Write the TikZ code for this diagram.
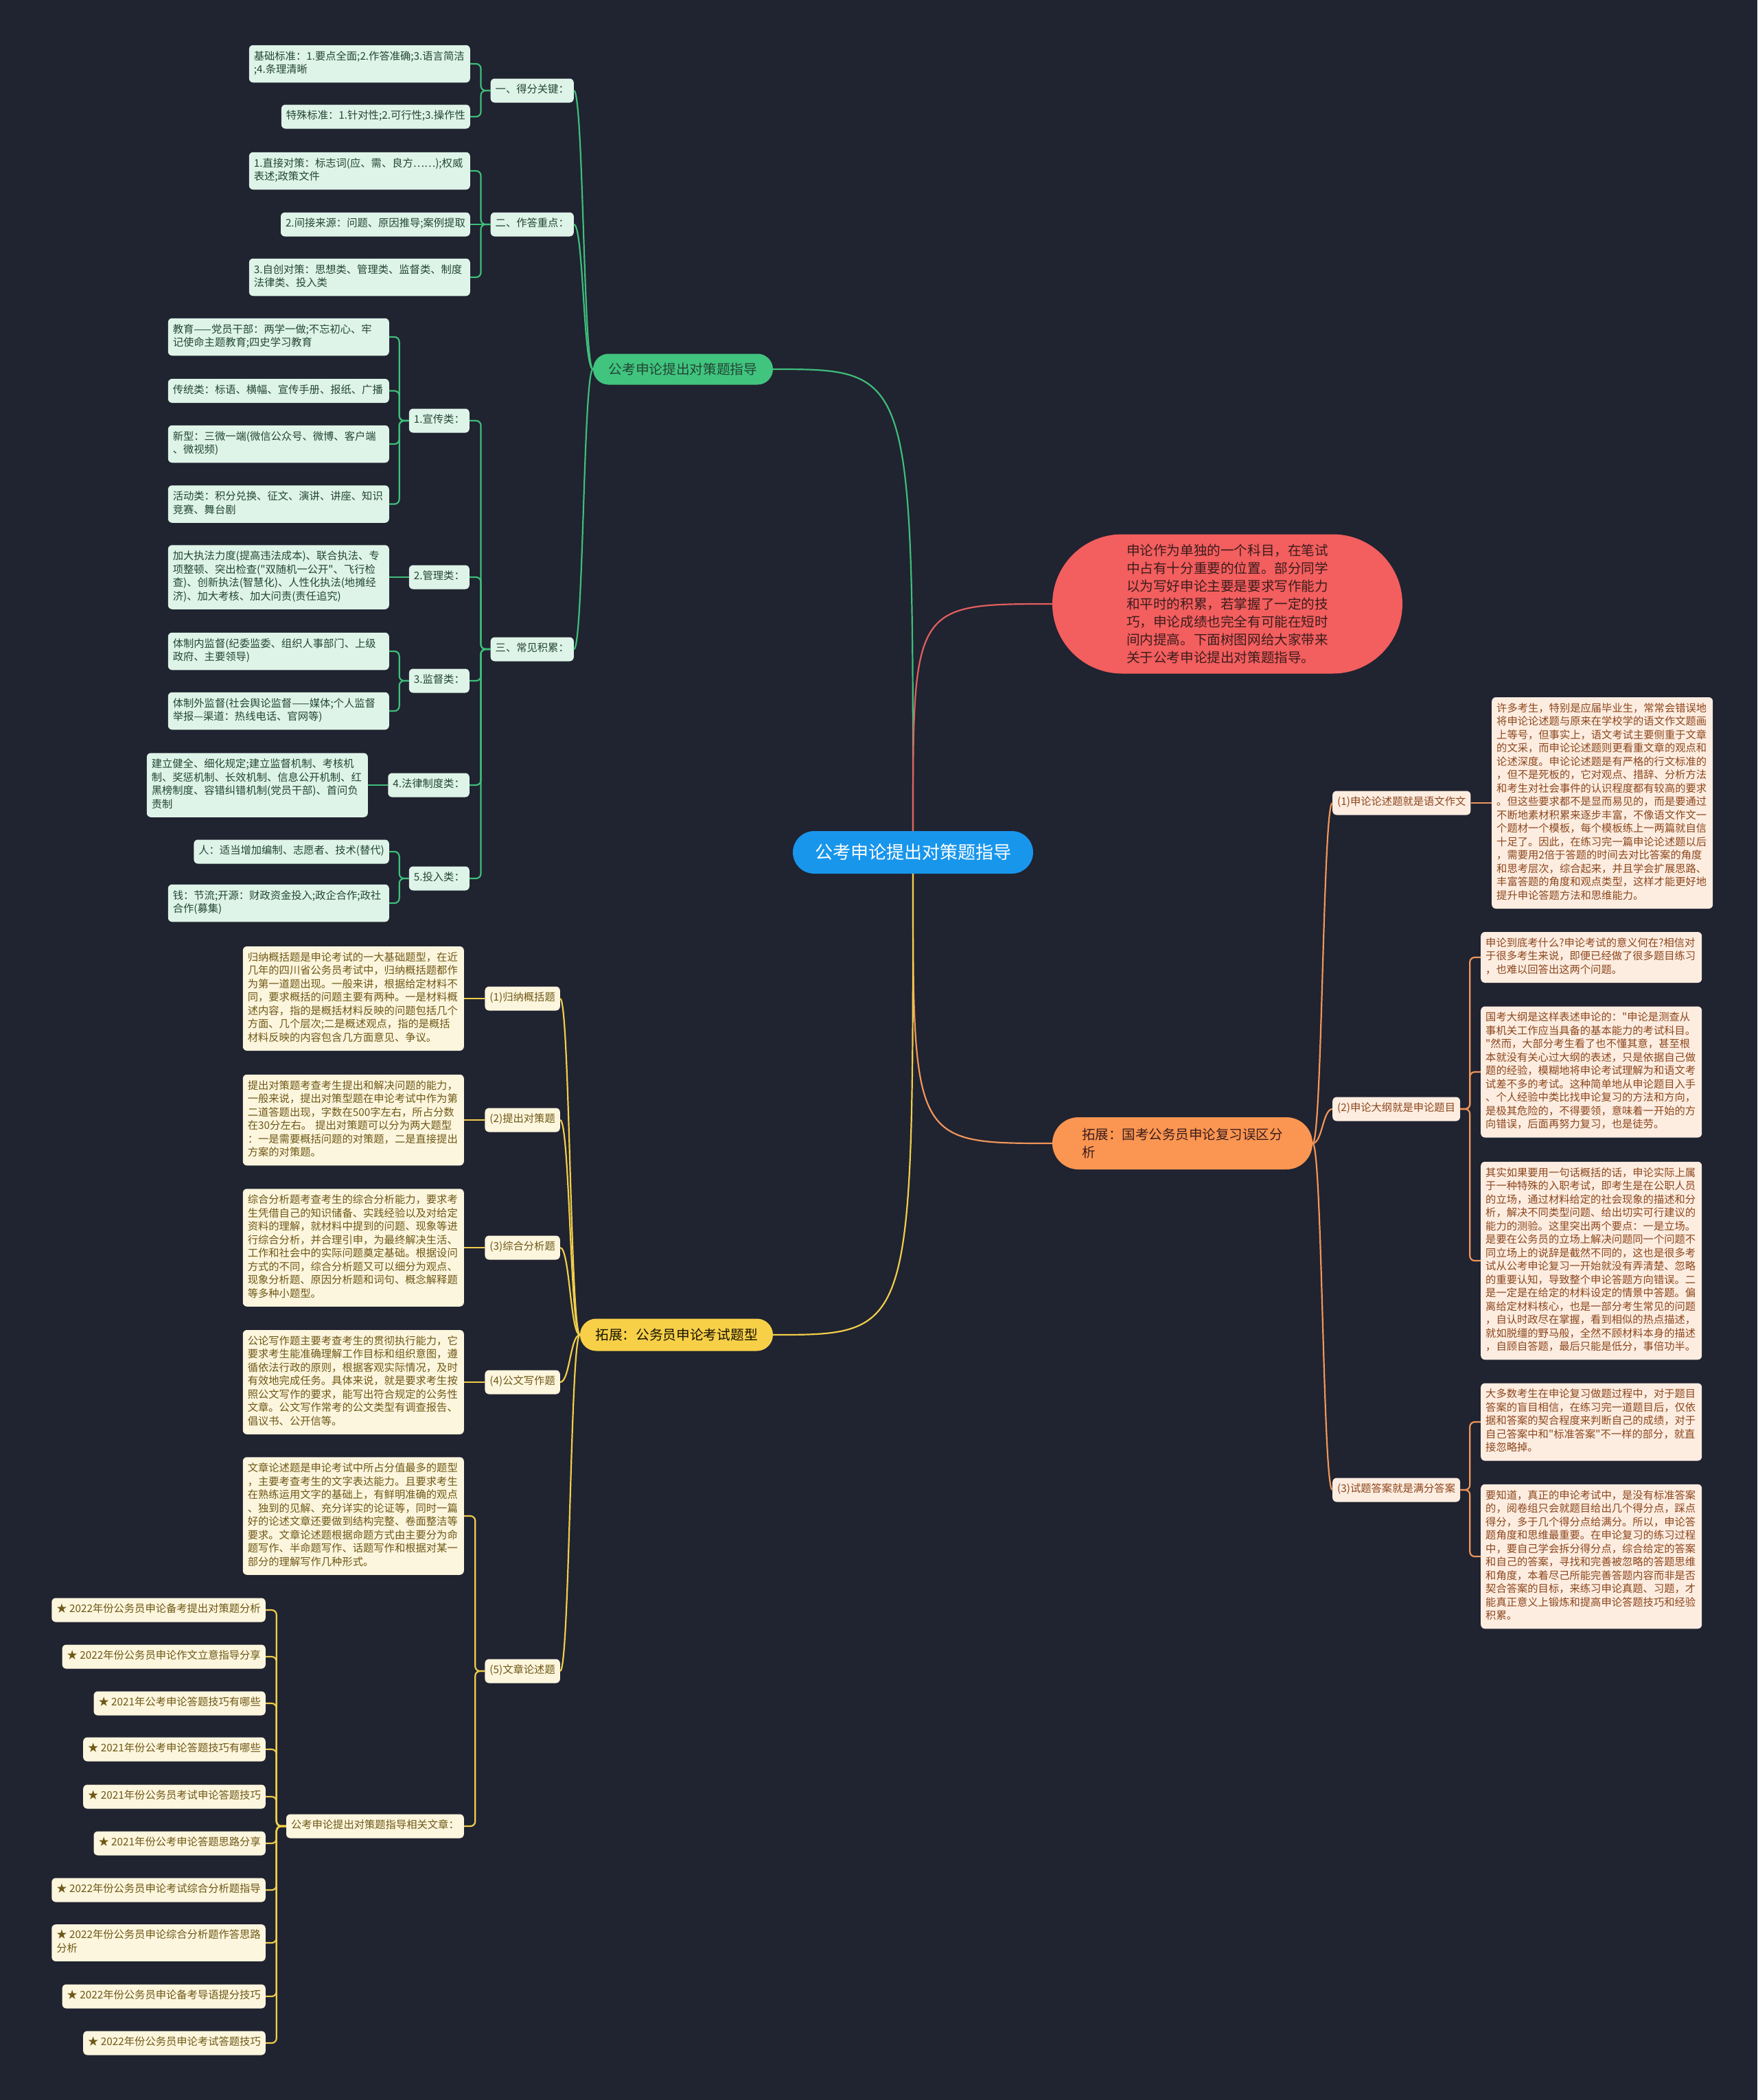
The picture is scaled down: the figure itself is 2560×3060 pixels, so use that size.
\documentclass[tikz,border=0pt]{standalone}
\usepackage{fontspec}
\newfontfamily\cjkf{Noto Sans CJK SC}
\usetikzlibrary{shapes.misc}
\definecolor{bg}{RGB}{32,35,48}
\definecolor{cblue}{RGB}{24,150,236}
\definecolor{gmain}{RGB}{64,196,126}
\definecolor{glc}{RGB}{62,190,122}
\definecolor{gfill}{RGB}{222,244,232}
\definecolor{gtext}{RGB}{35,70,52}
\definecolor{ymain}{RGB}{247,208,72}
\definecolor{ylc}{RGB}{240,206,74}
\definecolor{yfill}{RGB}{253,246,222}
\definecolor{ytext}{RGB}{110,88,22}
\definecolor{omain}{RGB}{250,150,82}
\definecolor{olc}{RGB}{240,150,90}
\definecolor{ofill}{RGB}{253,237,225}
\definecolor{otext}{RGB}{140,70,28}
\definecolor{rmain}{RGB}{243,94,94}
\definecolor{rlc}{RGB}{228,95,95}
\definecolor{rtext}{RGB}{60,28,28}
\newcommand\brL[3]{\draw[#1] (#2.west) -- ++(-14,0) |- (#3.east);}
\newcommand\brR[3]{\draw[#1] (#2.east) -- ++(14,0) |- (#3.west);}
\newcommand\cvL[3]{\draw[#1] (#2.west) .. controls +(-14,0) and +(14,0) .. (#3.east);}
\newcommand\cvR[3]{\draw[#1] (#2.east) .. controls +(14,0) and +(-14,0) .. (#3.west);}
\begin{document}
\begin{tikzpicture}[x=1pt,y=-1pt,
  bx/.style={rounded corners=6pt, inner xsep=7pt, inner ysep=7.75pt, font=\cjkf\fontsize{15.3}{19.5}\selectfont, align=left, execute at begin node=\strut, execute at end node=\strut},
  wd20/.style={text width=308pt},
  gbox/.style={bx, fill=gfill, text=gtext},
  ybox/.style={bx, fill=yfill, text=ytext},
  obox/.style={bx, fill=ofill, text=otext},
  pill/.style={rounded rectangle, inner sep=0pt, align=left},
  gl/.style={draw=glc, line width=2.2pt, rounded corners=7pt},
  yl/.style={draw=ylc, line width=2.2pt, rounded corners=7pt},
  ol/.style={draw=olc, line width=2.2pt, rounded corners=7pt},
  rl/.style={draw=rlc, line width=2.2pt},
]
\fill[bg] (0,0) rectangle (2560,3060);
\useasboundingbox (0,0) rectangle (2560,3060);

% ---------- main nodes
\node[pill, fill=cblue, text=white, font=\cjkf\fontsize{26}{30}\selectfont, minimum width=350pt, minimum height=62pt] (c) at (1330,1242) {公考申论提出对策题指导};
\node[pill, fill=gmain, text=gtext, font=\cjkf\fontsize{19.7}{26}\selectfont, minimum width=262pt, minimum height=45pt] (gm) at (995,538) {公考申论提出对策题指导};
\node[pill, fill=ymain, text=black!80!ytext, font=\cjkf\fontsize{19.7}{26}\selectfont, minimum width=281pt, minimum height=47pt] (ym) at (985.5,1945) {拓展：公务员申论考试题型};
\node[pill, fill=omain, text=rtext, font=\cjkf\fontsize{19.5}{26}\selectfont, minimum width=379pt, minimum height=76pt] (om) at (1722.5,1666) {拓展：国考公务员申论复习误区分\\析};
\node[pill, fill=rmain, text=rtext, font=\cjkf\fontsize{19.6}{26}\selectfont, minimum width=510pt, minimum height=203pt] (rm) at (1788,880) {申论作为单独的一个科目，在笔试\\中占有十分重要的位置。部分同学\\以为写好申论主要是要求写作能力\\和平时的积累，若掌握了一定的技\\巧，申论成绩也完全有可能在短时\\间内提高。下面树图网给大家带来\\关于公考申论提出对策题指导。};

\draw[gl] (c.north) .. controls (c.north |- gm.east) .. (gm.east);
\draw[rl] (c.north) .. controls (c.north |- rm.west) .. (rm.west);
\draw[ol] (c.south) .. controls (c.south |- om.west) .. (om.west);
\draw[yl] (c.south) .. controls (c.south |- ym.east) .. (ym.east);

% ---------- green branch
\node[gbox, anchor=east] (ga) at (836,132) {一、得分关键：};
\node[gbox, anchor=east] (gb) at (836,327) {二、作答重点：};
\node[gbox, anchor=east] (gc) at (836,946) {三、常见积累：};
\node[gbox, wd20, anchor=east] (ga1) at (685,93) {基础标准：1.要点全面;2.作答准确;3.语言简洁\\;4.条理清晰};
\node[gbox, anchor=east] (ga2) at (685,170) {特殊标准：1.针对性;2.可行性;3.操作性};
\node[gbox, wd20, anchor=east] (gb1) at (685,249) {1.直接对策：标志词(应、需、良方……);权威\\表述;政策文件};
\node[gbox, anchor=east] (gb2) at (685,327) {2.间接来源：问题、原因推导;案例提取};
\node[gbox, wd20, anchor=east] (gb3) at (685,404) {3.自创对策：思想类、管理类、监督类、制度\\法律类、投入类};
\node[gbox, anchor=east] (gc1) at (684,613) {1.宣传类：};
\node[gbox, anchor=east] (gc2) at (684,841) {2.管理类：};
\node[gbox, anchor=east] (gc3) at (684,992) {3.监督类：};
\node[gbox, anchor=east] (gc4) at (684,1144) {4.法律制度类：};
\node[gbox, anchor=east] (gc5) at (684,1280) {5.投入类：};
\node[gbox, wd20, anchor=east] (gc1a) at (567,491) {教育——党员干部：两学一做;不忘初心、牢\\记使命主题教育;四史学习教育};
\node[gbox, wd20, anchor=east] (gc1b) at (567,569.5) {传统类：标语、横幅、宣传手册、报纸、广播};
\node[gbox, wd20, anchor=east] (gc1c) at (567,647) {新型：三微一端(微信公众号、微博、客户端\\、微视频)};
\node[gbox, wd20, anchor=east] (gc1d) at (567,734.5) {活动类：积分兑换、征文、演讲、讲座、知识\\竞赛、舞台剧};
\node[gbox, wd20, anchor=east] (gc2a) at (567,841) {加大执法力度(提高违法成本)、联合执法、专\\项整顿、突出检查("双随机一公开"、飞行检\\查)、创新执法(智慧化)、人性化执法(地摊经\\济)、加大考核、加大问责(责任追究)};
\node[gbox, wd20, anchor=east] (gc3a) at (567,949) {体制内监督(纪委监委、组织人事部门、上级\\政府、主要领导)};
\node[gbox, wd20, anchor=east] (gc3b) at (567,1036) {体制外监督(社会舆论监督——媒体;个人监督\\举报—渠道：热线电话、官网等)};
\node[gbox, wd20, anchor=east] (gc4a) at (536,1144) {建立健全、细化规定;建立监督机制、考核机\\制、奖惩机制、长效机制、信息公开机制、红\\黑榜制度、容错纠错机制(党员干部)、首问负\\责制};
\node[gbox, anchor=east] (gc5a) at (567,1241) {人：适当增加编制、志愿者、技术(替代)};
\node[gbox, wd20, anchor=east] (gc5b) at (567,1316) {钱：节流;开源：财政资金投入;政企合作;政社\\合作(募集)};

\cvL{gl}{gm}{ga}
\cvL{gl}{gm}{gb}
\cvL{gl}{gm}{gc}
\brL{gl}{ga}{ga1}
\brL{gl}{ga}{ga2}
\brL{gl}{gb}{gb1}
\draw[gl] (gb.west) -- (gb2.east);
\brL{gl}{gb}{gb3}
\brL{gl}{gc}{gc1}
\brL{gl}{gc}{gc2}
\brL{gl}{gc}{gc3}
\brL{gl}{gc}{gc4}
\brL{gl}{gc}{gc5}
\brL{gl}{gc1}{gc1a}
\brL{gl}{gc1}{gc1b}
\brL{gl}{gc1}{gc1c}
\brL{gl}{gc1}{gc1d}
\draw[gl] (gc2.west) -- (gc2a.east);
\brL{gl}{gc3}{gc3a}
\brL{gl}{gc3}{gc3b}
\draw[gl] (gc4.west) -- (gc4a.east);
\brL{gl}{gc5}{gc5a}
\brL{gl}{gc5}{gc5b}

% ---------- yellow branch
\node[ybox, anchor=east] (y1) at (816,1455) {(1)归纳概括题};
\node[ybox, anchor=east] (y2) at (816,1632) {(2)提出对策题};
\node[ybox, anchor=east] (y3) at (816,1818) {(3)综合分析题};
\node[ybox, anchor=east] (y4) at (816,2014) {(4)公文写作题};
\node[ybox, anchor=east] (y5) at (816,2435) {(5)文章论述题};
\node[ybox, wd20, anchor=east] (y1a) at (676,1455) {归纳概括题是申论考试的一大基础题型，在近\\几年的四川省公务员考试中，归纳概括题都作\\为第一道题出现。一般来讲，根据给定材料不\\同，要求概括的问题主要有两种。一是材料概\\述内容，指的是概括材料反映的问题包括几个\\方面、几个层次;二是概述观点，指的是概括\\材料反映的内容包含几方面意见、争议。};
\node[ybox, wd20, anchor=east] (y2a) at (676,1632) {提出对策题考查考生提出和解决问题的能力，\\一般来说，提出对策型题在申论考试中作为第\\二道答题出现，字数在500字左右，所占分数\\在30分左右。 提出对策题可以分为两大题型\\：一是需要概括问题的对策题，二是直接提出\\方案的对策题。};
\node[ybox, wd20, anchor=east] (y3a) at (676,1818) {综合分析题考查考生的综合分析能力，要求考\\生凭借自己的知识储备、实践经验以及对给定\\资料的理解，就材料中提到的问题、现象等进\\行综合分析，并合理引申，为最终解决生活、\\工作和社会中的实际问题奠定基础。根据设问\\方式的不同，综合分析题又可以细分为观点、\\现象分析题、原因分析题和词句、概念解释题\\等多种小题型。};
\node[ybox, wd20, anchor=east] (y4a) at (676,2014) {公论写作题主要考查考生的贯彻执行能力，它\\要求考生能准确理解工作目标和组织意图，遵\\循依法行政的原则，根据客观实际情况，及时\\有效地完成任务。具体来说，就是要求考生按\\照公文写作的要求，能写出符合规定的公务性\\文章。公文写作常考的公文类型有调查报告、\\倡议书、公开信等。};
\node[ybox, wd20, anchor=east] (y5a) at (676,2209) {文章论述题是申论考试中所占分值最多的题型\\，主要考查考生的文字表达能力。且要求考生\\在熟练运用文字的基础上，有鲜明准确的观点\\、独到的见解、充分详实的论证等，同时一篇\\好的论述文章还要做到结构完整、卷面整洁等\\要求。文章论述题根据命题方式由主要分为命\\题写作、半命题写作、话题写作和根据对某一\\部分的理解写作几种形式。};
\node[ybox, anchor=east] (y5b) at (676,2661) {公考申论提出对策题指导相关文章：};
\node[ybox, anchor=east] (s1) at (387,2346) {★ 2022年份公务员申论备考提出对策题分析};
\node[ybox, anchor=east] (s2) at (387,2414) {★ 2022年份公务员申论作文立意指导分享};
\node[ybox, anchor=east] (s3) at (387,2482) {★ 2021年公考申论答题技巧有哪些};
\node[ybox, anchor=east] (s4) at (387,2549) {★ 2021年份公考申论答题技巧有哪些};
\node[ybox, anchor=east] (s5) at (387,2618) {★ 2021年份公务员考试申论答题技巧};
\node[ybox, anchor=east] (s6) at (387,2686) {★ 2021年份公考申论答题思路分享};
\node[ybox, anchor=east] (s7) at (387,2754) {★ 2022年份公务员申论考试综合分析题指导};
\node[ybox, anchor=east] (s8) at (387,2831) {★ 2022年份公务员申论综合分析题作答思路\\分析};
\node[ybox, anchor=east] (s9) at (387,2909) {★ 2022年份公务员申论备考导语提分技巧};
\node[ybox, anchor=east] (s10) at (387,2977) {★ 2022年份公务员申论考试答题技巧};

\cvL{yl}{ym}{y1}
\cvL{yl}{ym}{y2}
\cvL{yl}{ym}{y3}
\cvL{yl}{ym}{y4}
\cvL{yl}{ym}{y5}
\draw[yl] (y1.west) -- (y1a.east);
\draw[yl] (y2.west) -- (y2a.east);
\draw[yl] (y3.west) -- (y3a.east);
\draw[yl] (y4.west) -- (y4a.east);
\brL{yl}{y5}{y5a}
\brL{yl}{y5}{y5b}
\foreach \s in {s1,s2,s3,s4,s5,s6,s7,s8,s9,s10}{\brL{yl}{y5b}{\s}}

% ---------- orange branch
\node[obox, anchor=west] (o1) at (1941,1170) {(1)申论论述题就是语文作文};
\node[obox, anchor=west] (o2) at (1941,1616) {(2)申论大纲就是申论题目};
\node[obox, anchor=west] (o3) at (1941,2171) {(3)试题答案就是满分答案};
\node[obox, wd20, anchor=west] (o1a) at (2173,1170) {许多考生，特别是应届毕业生，常常会错误地\\将申论论述题与原来在学校学的语文作文题画\\上等号，但事实上，语文考试主要侧重于文章\\的文采，而申论论述题则更看重文章的观点和\\论述深度。申论论述题是有严格的行文标准的\\，但不是死板的，它对观点、措辞、分析方法\\和考生对社会事件的认识程度都有较高的要求\\。但这些要求都不是显而易见的，而是要通过\\不断地素材积累来逐步丰富，不像语文作文一\\个题材一个模板，每个模板练上一两篇就自信\\十足了。因此，在练习完一篇申论论述题以后\\，需要用2倍于答题的时间去对比答案的角度\\和思考层次，综合起来，并且学会扩展思路、\\丰富答题的角度和观点类型，这样才能更好地\\提升申论答题方法和思维能力。};
\node[obox, wd20, anchor=west] (o2a) at (2157,1395) {申论到底考什么?申论考试的意义何在?相信对\\于很多考生来说，即便已经做了很多题目练习\\，也难以回答出这两个问题。};
\node[obox, wd20, anchor=west] (o2b) at (2157,1562) {国考大纲是这样表述申论的："申论是测查从\\事机关工作应当具备的基本能力的考试科目。\\"然而，大部分考生看了也不懂其意，甚至根\\本就没有关心过大纲的表述，只是依据自己做\\题的经验，模糊地将申论考试理解为和语文考\\试差不多的考试。这种简单地从申论题目入手\\、个人经验中类比找申论复习的方法和方向，\\是极其危险的，不得要领，意味着一开始的方\\向错误，后面再努力复习，也是徒劳。};
\node[obox, wd20, anchor=west] (o2c) at (2157,1837) {其实如果要用一句话概括的话，申论实际上属\\于一种特殊的入职考试，即考生是在公职人员\\的立场，通过材料给定的社会现象的描述和分\\析，解决不同类型问题、给出切实可行建议的\\能力的测验。这里突出两个要点：一是立场。\\是要在公务员的立场上解决问题同一个问题不\\同立场上的说辞是截然不同的，这也是很多考\\试从公考申论复习一开始就没有弄清楚、忽略\\的重要认知，导致整个申论答题方向错误。二\\是一定是在给定的材料设定的情景中答题。偏\\离给定材料核心，也是一部分考生常见的问题\\，自认时政尽在掌握，看到相似的热点描述，\\就如脱缰的野马般，全然不顾材料本身的描述\\，自顾自答题，最后只能是低分，事倍功半。};
\node[obox, wd20, anchor=west] (o3a) at (2157,2072) {大多数考生在申论复习做题过程中，对于题目\\答案的盲目相信，在练习完一道题目后，仅依\\据和答案的契合程度来判断自己的成绩，对于\\自己答案中和"标准答案"不一样的部分，就直\\接忽略掉。};
\node[obox, wd20, anchor=west] (o3b) at (2157,2268) {要知道，真正的申论考试中，是没有标准答案\\的，阅卷组只会就题目给出几个得分点，踩点\\得分，多于几个得分点给满分。所以，申论答\\题角度和思维最重要。在申论复习的练习过程\\中，要自己学会拆分得分点，综合给定的答案\\和自己的答案，寻找和完善被忽略的答题思维\\和角度，本着尽己所能完善答题内容而非是否\\契合答案的目标，来练习申论真题、习题，才\\能真正意义上锻炼和提高申论答题技巧和经验\\积累。};

\cvR{ol}{om}{o1}
\cvR{ol}{om}{o2}
\cvR{ol}{om}{o3}
\draw[ol] (o1.east) -- (o1a.west);
\brR{ol}{o2}{o2a}
\brR{ol}{o2}{o2b}
\brR{ol}{o2}{o2c}
\brR{ol}{o3}{o3a}
\brR{ol}{o3}{o3b}
\end{tikzpicture}
\end{document}
